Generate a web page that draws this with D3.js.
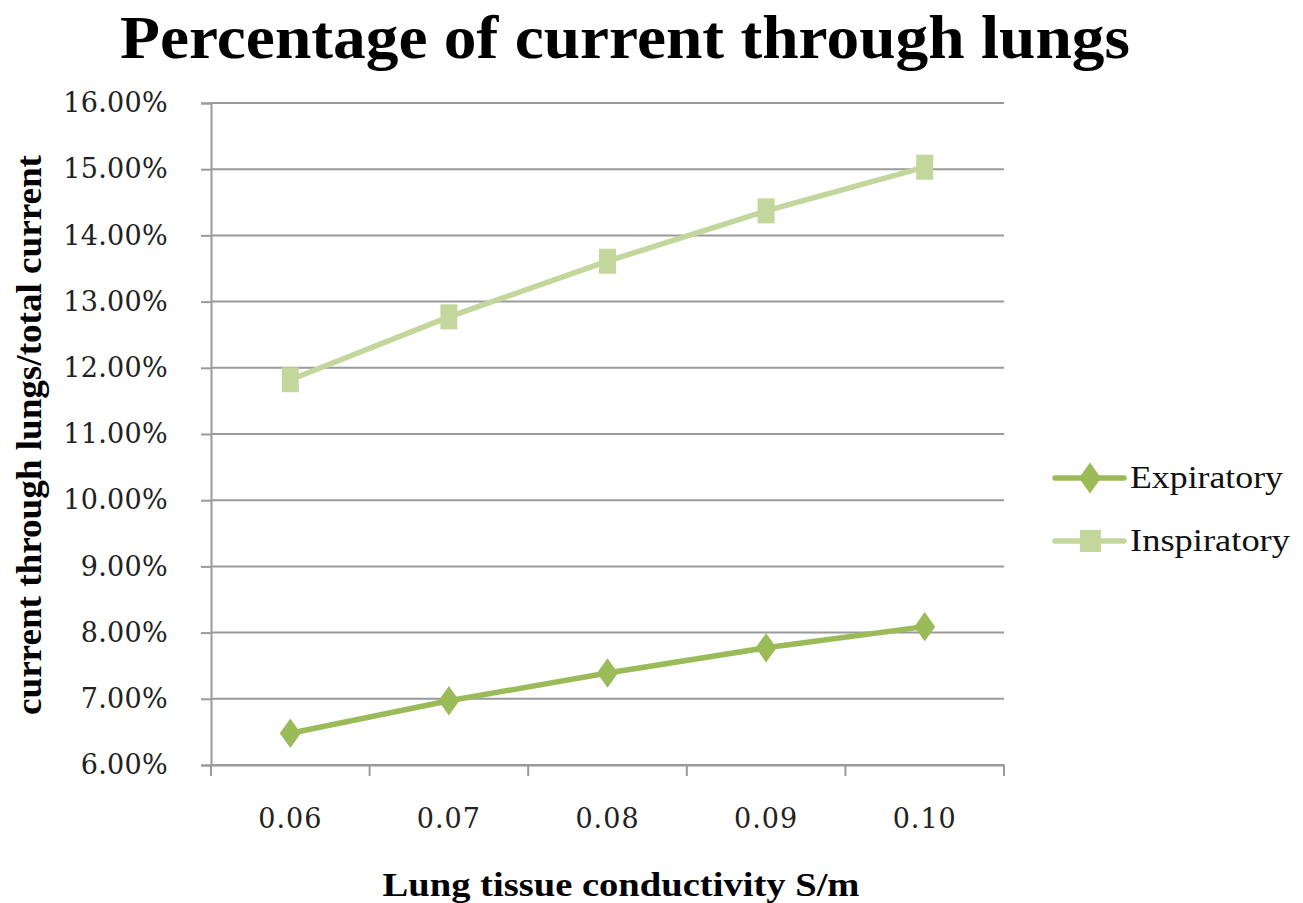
<!DOCTYPE html>
<html><head><meta charset="utf-8">
<script src="https://cdn.jsdelivr.net/npm/d3@7"></script>
<style>body{margin:0;background:#fff}</style>
</head><body>
<svg id="c" width="1303" height="903"></svg>
<script>
const categories = ["0.06","0.07","0.08","0.09","0.10"];
const expiratory = [6.48, 6.97, 7.39, 7.77, 8.09];
const inspiratory = [11.82, 12.77, 13.61, 14.37, 15.03];
const yTicks = [6,7,8,9,10,11,12,13,14,15,16];
const seriesNames = ["Expiratory","Inspiratory"];

const svg = d3.select("#c");
const m = {l:211, r:1004, t:103, b:765};
const x = d3.scaleBand().domain(categories).range([m.l, m.r]);
const y = d3.scaleLinear().domain([6,16]).range([m.b, m.t]);
const colors = {Expiratory:"#9bbb59", Inspiratory:"#c3d69b"};

// gridlines
svg.append("g").selectAll("line").data(yTicks).join("line")
  .attr("x1", m.l).attr("x2", m.r)
  .attr("y1", d=>y(d)).attr("y2", d=>y(d))
  .attr("stroke", "#9a9a9a").attr("stroke-width", 2);

// y axis
const yAxis = svg.append("g").attr("transform", `translate(${m.l},0)`)
  .call(d3.axisLeft(y).tickValues(yTicks).tickSize(10).tickPadding(33).tickFormat(d=>d.toFixed(2)+"%"));
yAxis.select(".domain").attr("stroke","#9a9a9a").attr("stroke-width",2);
yAxis.selectAll(".tick line").attr("stroke","#9a9a9a").attr("stroke-width",2);
yAxis.selectAll("text").attr("font-family","DejaVu Serif").attr("font-size",27)
  .attr("letter-spacing","0.3px").attr("fill","#222");

// x axis
const xAxis = svg.append("g").attr("transform", `translate(0,${m.b})`)
  .call(d3.axisBottom(x).tickSize(0).tickPadding(44));
xAxis.select(".domain").attr("stroke","#9a9a9a").attr("stroke-width",2);
xAxis.selectAll(".tick line").remove();
xAxis.selectAll("text").attr("font-family","DejaVu Serif").attr("font-size",27)
  .attr("letter-spacing","1px").attr("fill","#222");
// category boundary ticks
const bounds = categories.map(c=>x(c)).concat([x(categories[categories.length-1])+x.bandwidth()]);
svg.append("g").selectAll("line").data(bounds).join("line")
  .attr("x1",d=>d).attr("x2",d=>d).attr("y1",m.b).attr("y2",m.b+11)
  .attr("stroke","#9a9a9a").attr("stroke-width",2);

const cx = c => x(c) + x.bandwidth()/2;
const line = d3.line().x((d,i)=>cx(categories[i])).y(d=>y(d));

const diamond = (s) => `M0,${-s*0.7}L${s*0.5},0L0,${s*0.7}L${-s*0.5},0Z`;

// Inspiratory
svg.append("path").datum(inspiratory).attr("d", line).attr("fill","none")
  .attr("stroke", colors.Inspiratory).attr("stroke-width",5.5);
svg.append("g").selectAll("rect").data(inspiratory).join("rect")
  .attr("x",(d,i)=>cx(categories[i])-8.5).attr("y",d=>y(d)-12.5)
  .attr("width",17).attr("height",25).attr("fill",colors.Inspiratory);

// Expiratory
svg.append("path").datum(expiratory).attr("d", line).attr("fill","none")
  .attr("stroke", colors.Expiratory).attr("stroke-width",5.5);
svg.append("g").selectAll("path").data(expiratory).join("path")
  .attr("transform",(d,i)=>`translate(${cx(categories[i])},${y(d)})`)
  .attr("d", diamond(21)).attr("fill",colors.Expiratory);

// title
svg.append("text").attr("x",625).attr("y",58).attr("text-anchor","middle")
  .attr("font-family","Liberation Serif").attr("font-weight","bold").attr("font-size",62)
  .attr("textLength",1010).attr("lengthAdjust","spacingAndGlyphs")
  .text("Percentage of current through lungs");

// axis titles
svg.append("text").attr("transform","translate(41,435) rotate(-90)").attr("text-anchor","middle")
  .attr("font-family","Liberation Serif").attr("font-weight","bold").attr("font-size",35)
  .attr("textLength",560).attr("lengthAdjust","spacingAndGlyphs")
  .text("current through lungs/total current");
svg.append("text").attr("x",621).attr("y",896).attr("text-anchor","middle")
  .attr("font-family","Liberation Serif").attr("font-weight","bold").attr("font-size",33)
  .attr("textLength",477).attr("lengthAdjust","spacingAndGlyphs")
  .text("Lung tissue conductivity S/m");

// legend
const leg = svg.append("g");
seriesNames.forEach((n,i)=>{
  const ly = 478 + i*63;
  leg.append("line").attr("x1",1055).attr("x2",1124).attr("y1",ly).attr("y2",ly)
    .attr("stroke",colors[n]).attr("stroke-width",5.5).attr("stroke-linecap","round");
  if(n==="Expiratory"){
    leg.append("path").attr("transform",`translate(1090,${ly})`).attr("d",diamond(22)).attr("fill",colors[n]);
  } else {
    leg.append("rect").attr("x",1080).attr("y",ly-11).attr("width",21).attr("height",22).attr("fill",colors[n]);
  }
  leg.append("text").attr("x",1130).attr("y",ly+10).attr("font-family","Liberation Serif")
    .attr("font-size",32).attr("fill","#111")
    .attr("textLength", n==="Expiratory"?153:160).attr("lengthAdjust","spacingAndGlyphs").text(n);
});
</script>
</body></html>
